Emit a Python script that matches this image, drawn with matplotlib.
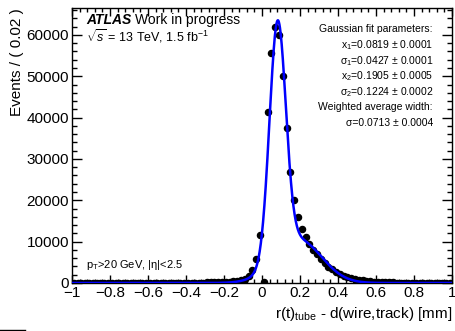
import numpy as np
import matplotlib
matplotlib.use("Agg")
from matplotlib import pyplot as plt
from matplotlib.ticker import MultipleLocator
from matplotlib.lines import Line2D

plt.rcParams['font.family'] = ['Liberation Sans', 'DejaVu Sans']
plt.rcParams['mathtext.fontset'] = 'custom'
plt.rcParams['mathtext.rm'] = 'Liberation Sans'
plt.rcParams['mathtext.it'] = 'Liberation Sans:italic'
plt.rcParams['mathtext.bf'] = 'Liberation Sans:bold'

# histogram bins (width 0.02) from -1 to 1, centres -0.99 ... 0.99
bin_centers = np.round(-0.99 + 0.02 * np.arange(100), 2)
counts_left = [  # -0.99 ... -0.01
    6, 7, 8, 8, 9,
    10, 12, 12, 14, 15, 15, 16, 18, 18, 20,
    22, 22, 24, 26, 28, 30, 32, 35, 38, 40,
    44, 48, 52, 58, 64, 70, 80, 90, 100, 110,
    130, 150, 170, 200, 240, 290, 350, 430, 540, 700,
    1000, 1690, 3140, 5730, 11680,
]
counts_right = [  # 0.01 ... 0.99
    300, 41290, 55560, 61860, 59990,
    50150, 37420, 26850, 20080, 16040, 13140, 11050, 9360, 7980, 6940,
    5730, 4770, 3940, 3310, 2660, 2180, 1770, 1450, 1200, 970,
    800, 650, 530, 430, 350, 290, 240, 200, 170, 140,
    120, 100, 90, 80, 70, 60, 52, 46, 40, 36,
    32, 28, 25, 22, 20,
]
counts = counts_left + counts_right

# double gaussian fit (means/sigmas from the fit box, amplitudes)
fit_means = [0.0819, 0.1905]
fit_sigmas = [0.0427, 0.1224]
fit_amps = [56400, 10500]

fig = plt.figure(figsize=(4.56, 3.31), dpi=100)
ax = fig.add_axes([72 / 456, 1 - 283 / 331, 380 / 456, 275 / 331])

y = np.array(counts, dtype=float)
ax.errorbar(bin_centers, y, xerr=0.01, yerr=np.sqrt(y), fmt='o', color='black',
            ms=4.4, elinewidth=1.0, capsize=0, zorder=2)

xf = np.linspace(-1, 1, 2000)
yf = np.zeros_like(xf)
for a, m, s in zip(fit_amps, fit_means, fit_sigmas):
    yf += a * np.exp(-0.5 * ((xf - m) / s) ** 2)
ax.plot(xf, yf, color='#0000ff', lw=1.8, zorder=3)

ax.set_xlim(-1, 1)
ax.set_ylim(0, 66500)
ax.xaxis.set_major_locator(MultipleLocator(0.2))
ax.xaxis.set_minor_locator(MultipleLocator(0.04))
ax.yaxis.set_major_locator(MultipleLocator(10000))
ax.yaxis.set_minor_locator(MultipleLocator(2000))
ax.xaxis.set_major_formatter(plt.FuncFormatter(
    lambda v, p: ('%g' % round(v, 1)).replace('-', '\u2212')))
ax.tick_params(which='both', direction='in', top=True, right=True, labelsize=11,
               width=1.0, pad=2)
ax.tick_params(axis='y', which='major', length=7)
ax.tick_params(axis='y', which='minor', length=3.5)
ax.tick_params(axis='x', which='major', length=6)
ax.tick_params(axis='x', which='minor', length=3)
for sp in ax.spines.values():
    sp.set_linewidth(1.0)

ax.set_ylabel('Events / ( 0.02 )', fontsize=11, loc='top', labelpad=2)
ax.set_xlabel(r'r(t)$_{\mathrm{tube}}$ - d(wire,track) [mm]', fontsize=11,
              loc='right', labelpad=4)

atlas = fig.text(86 / 456, 1 - 20 / 331, 'ATLAS', fontsize=10, fontweight='bold',
                 fontstyle='italic', va='center')
fig.canvas.draw()
ax.annotate('Work in progress', xy=(1, 0.5), xycoords=atlas, xytext=(2.5, 0),
            textcoords='offset points', fontsize=10, va='center', ha='left')
fig.text(86 / 456, 1 - 36 / 331, r'$\sqrt{s}$ = 13 TeV, 1.5 fb$^{-1}$',
         fontsize=9, va='center')
fig.text(86 / 456, 1 - 265 / 331, r'p$_{\mathrm{T}}$>20 GeV, |η|<2.5',
         fontsize=8, va='center')

fit_lines = [
    'Gaussian fit parameters:',
    r'x$_1$=0.0819 ± 0.0001',
    r'σ$_1$=0.0427 ± 0.0001',
    r'x$_2$=0.1905 ± 0.0005',
    r'σ$_2$=0.1224 ± 0.0002',
    'Weighted average width:',
    'σ=0.0713 ± 0.0004',
]
for i, t in enumerate(fit_lines):
    fig.text(433 / 456, 1 - (29.5 + 15.6 * i) / 331, t, fontsize=7.5,
             ha='right', va='center')

fig.add_artist(Line2D([0, 25 / 456], [1.5 / 331, 1.5 / 331], color='black', lw=1))

fig.savefig('out.png', dpi=100)
